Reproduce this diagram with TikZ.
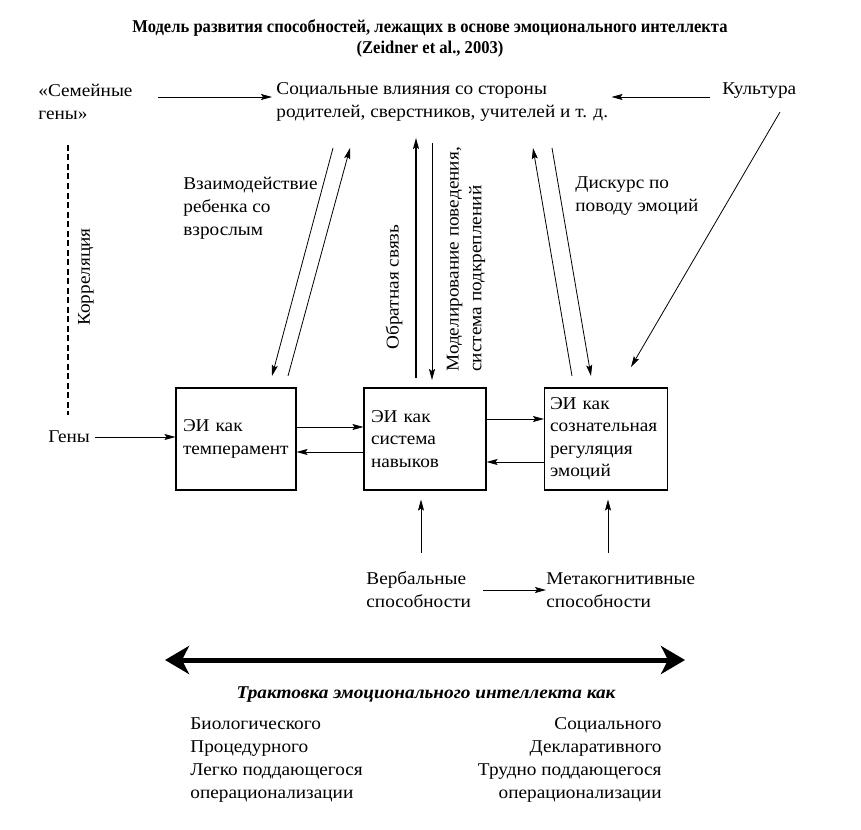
\documentclass[tikz,border=0pt]{standalone}
\usepackage{fontspec}
\setmainfont{Liberation Serif}[FakeStretch=1.07]
\newfontfamily\headfont[FakeStretch=0.92]{Liberation Serif}
\usetikzlibrary{arrows.meta, positioning, calc}

\begin{document}
\begin{tikzpicture}[x=1pt, y=-1pt, ->, >={Stealth[length=11pt,width=6pt,inset=2pt]},
  line width=0.8pt,
  lbl/.style={font=\fontsize{18}{22.8}\selectfont, align=left, inner sep=0pt},
  eibox/.style={rectangle, draw, line width=1.1pt, minimum height=102pt,
    inner xsep=7pt, align=left, font=\fontsize{18}{22.5}\selectfont},
  bigarrow/.style={{Stealth[length=24pt,width=28pt,inset=7pt]}-{Stealth[length=24pt,width=28pt,inset=7pt]}, line width=5pt}]
  \useasboundingbox (0,0) rectangle (861,829);

  % heading
  \node[inner sep=0pt, align=center, font=\headfont\bfseries\fontsize{18}{21}\selectfont] (title) at (430,38)
    {Модель развития способностей, лежащих в основе эмоционального интеллекта\\(Zeidner et al., 2003)};

  % top row
  \node[lbl, anchor=west] (fam) at (38,102) {«Семейные\\гены»};
  \node[lbl, anchor=west] (soc) at (276,102) {Социальные влияния со стороны\\родителей, сверстников, учителей и т. д.};
  \node[lbl, anchor=west] (cult) at (722,91) {Культура};

  % labels on the vertical links
  \node[lbl, anchor=west] (inter) at (183,208) {Взаимодействие\\ребенка со\\взрослым};
  \node[lbl, anchor=west] (disc) at (575,196) {Дискурс по\\поводу эмоций};
  \node[lbl, rotate=90] (korr) at (86,277) {Корреляция};
  \node[lbl, rotate=90, anchor=west] (fb) at (394,350) {Обратная связь};
  \node[lbl, rotate=90, anchor=west] (model) at (466,372) {Моделирование поведения,\\система подкреплений};

  % the three views of EI
  \node[lbl, anchor=west] (genes) at (48,437) {Гены};
  \node[eibox, minimum width=120pt, text width=106pt] (T1) at (236,439) {ЭИ как\\темперамент};
  \node[eibox, minimum width=122pt, text width=108pt] (T2) at (425,439) {ЭИ как\\система\\навыков};
  \node[eibox, minimum width=123pt, text width=112pt, inner xsep=5.5pt] (T3) at (606,439) {ЭИ как\\сознательная\\регуляция\\эмоций};

  \node[lbl, anchor=west] (verb) at (366,590) {Вербальные\\способности};
  \node[lbl, anchor=west] (meta) at (546,590) {Метакогнитивные\\способности};

  % scale of interpretations
  \coordinate (sL) at (165,660);
  \coordinate (sR) at (685,660);
  \node[inner sep=0pt, font=\bfseries\itshape\fontsize{18}{20}\selectfont] (treat) at (426,695)
    {Трактовка эмоционального интеллекта как};
  \node[lbl, anchor=west] (bio) at (190,760) {Биологического\\Процедурного\\Легко поддающегося\\операционализации};
  \node[lbl, anchor=east, align=right] (socv) at (662,760) {Социального\\Декларативного\\Трудно поддающегося\\операционализации};

  % free ends of the slanted links
  \coordinate (a1) at (333,148);
  \coordinate (a2) at (272,376);
  \coordinate (b1) at (288,376);
  \coordinate (b2) at (350,148);
  \coordinate (c1) at (416,378);
  \coordinate (c2) at (416,138);
  \coordinate (d1) at (432,143);
  \coordinate (d2) at (432,380);
  \coordinate (e1) at (572,376);
  \coordinate (e2) at (533,148);
  \coordinate (f1) at (552,148);
  \coordinate (f2) at (591,376);
  \coordinate (g1) at (780,112);
  \coordinate (g2) at (631,367);
  \coordinate (k1) at (68,145);
  \coordinate (k2) at (68,415);
  \coordinate (v1) at (421,553);
  \coordinate (m1) at (608,553);

  \draw ([yshift=5pt]fam.east) ++(25,0) -- ([xshift=-4pt,yshift=5pt]soc.west);
  \draw ([xshift=-12pt,yshift=-6pt]cult.west) -- ([xshift=3pt,yshift=-6pt]cult.west -| soc.east);
  \draw (a1) -- (a2);
  \draw (b1) -- (b2);
  \draw[line width=1.4pt] (c1) -- (c2);
  \draw (d1) -- (d2);
  \draw (e1) -- (e2);
  \draw (f1) -- (f2);
  \draw (g1) -- (g2);
  \draw[-, line width=2.6pt, dash pattern=on 6pt off 3.5pt] (k1) -- (k2);

  \draw ([xshift=5pt]genes.east) -- (genes.east -| T1.west);
  \draw ([yshift=12pt]T1.east) -- ([yshift=12pt]T2.west);
  \draw ([yshift=-13pt]T2.west) -- ([yshift=-13pt]T1.east);
  \draw ([yshift=20pt]T2.east) -- ([yshift=20pt]T3.west);
  \draw ([yshift=-23pt]T3.west) -- ([yshift=-23pt]T2.east);
  \draw (v1) -- ([yshift=-9pt]v1 |- T2.south);
  \draw (m1) -- ([yshift=-9pt]m1 |- T3.south);
  \draw ([xshift=12pt]verb.east) -- (meta.west);
  \draw[bigarrow] (sL) -- (sR);
\end{tikzpicture}
\end{document}
